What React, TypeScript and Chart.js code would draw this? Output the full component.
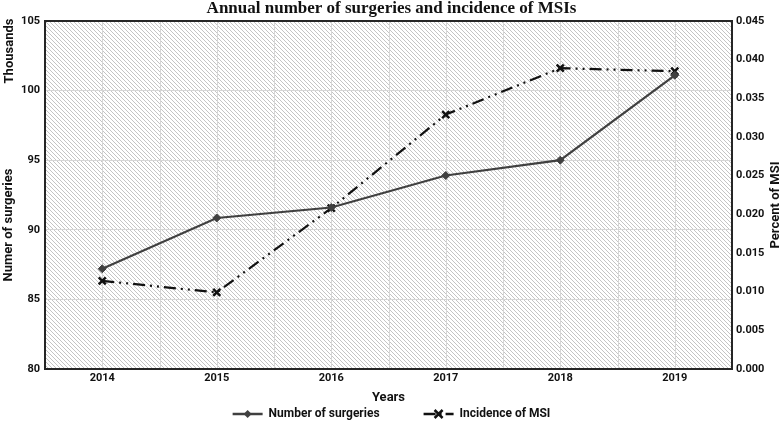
import React, { useEffect, useRef } from "react";
import { Chart, registerables } from "chart.js";

Chart.register(...registerables);

const years = ["2014", "2015", "2016", "2017", "2018", "2019"];
const surgeries = [87.2, 90.85, 91.6, 93.9, 95.0, 101.1]; // thousands
const msiIncidence = [0.0114, 0.0099, 0.0208, 0.0329, 0.0389, 0.0385];
const chartTitle = "Annual number of surgeries and incidence of MSIs";
const xTitle = "Years";
const leftTitle = "Numer of surgeries";
const leftUnit = "Thousands";
const rightTitle = "Percent of MSI";
const seriesNames = ["Number of surgeries", "Incidence of MSI"];

const FONT = "Roboto, 'Noto Sans', sans-serif";
const TITLE_FONT = "'Liberation Serif', 'DejaVu Serif', serif";

function makePattern(ctx: CanvasRenderingContext2D) {
  const c = document.createElement("canvas");
  c.width = 4;
  c.height = 4;
  const p = c.getContext("2d")!;
  p.fillStyle = "#ffffff";
  p.fillRect(0, 0, 4, 4);
  p.strokeStyle = "#c4c4c4";
  p.lineWidth = 1;
  p.beginPath();
  p.moveTo(-1, -1);
  p.lineTo(5, 5);
  p.moveTo(-1, 3);
  p.lineTo(1, 5);
  p.moveTo(3, -1);
  p.lineTo(5, 1);
  p.stroke();
  return ctx.createPattern(c, "repeat")!;
}

const decorPlugin = {
  id: "decor",
  beforeDraw(chart: any) {
    const { ctx, chartArea: a } = chart;
    ctx.save();
    ctx.fillStyle = makePattern(ctx);
    ctx.fillRect(a.left, a.top, a.right - a.left, a.bottom - a.top);
    ctx.restore();
  },
  beforeDatasetsDraw(chart: any) {
    const { ctx, chartArea: a } = chart;
    const x = chart.scales.x;
    const n = years.length;
    const w = (a.right - a.left) / n;
    ctx.save();
    ctx.strokeStyle = "#d6d6d6";
    ctx.lineWidth = 1;
    for (let i = 0; i < n; i++) {
      const cx = Math.round(x.getPixelForValue(i)) + 0.5;
      ctx.beginPath();
      ctx.moveTo(cx, a.top);
      ctx.lineTo(cx, a.bottom);
      ctx.stroke();
      if (i > 0) {
        const bx = Math.round(a.left + i * w) + 0.5;
        ctx.beginPath();
        ctx.moveTo(bx, a.top);
        ctx.lineTo(bx, a.bottom);
        ctx.stroke();
      }
    }
    ctx.restore();
  },
  afterDraw(chart: any) {
    const { ctx, chartArea: a, width } = chart;
    ctx.save();
    // border
    ctx.strokeStyle = "#262626";
    ctx.lineWidth = 2;
    ctx.strokeRect(a.left, a.top, a.right - a.left, a.bottom - a.top);

    // title
    ctx.fillStyle = "#111";
    ctx.font = `bold 17px ${TITLE_FONT}`;
    ctx.textAlign = "center";
    ctx.textBaseline = "middle";
    ctx.fillText(chartTitle, width / 2, 9);

    // x title
    ctx.font = `bold 13px ${FONT}`;
    ctx.fillText(xTitle, (a.left + a.right) / 2, 398);

    // rotated titles
    const rot = (text: string, x: number, y: number) => {
      ctx.save();
      ctx.translate(x, y);
      ctx.rotate(-Math.PI / 2);
      ctx.fillText(text, 0, 0);
      ctx.restore();
    };
    ctx.font = `bold 13px ${FONT}`;
    rot(leftUnit, 10, 51);
    rot(leftTitle, 9, 225);
    rot(rightTitle, 776, 205);

    // legend
    ctx.font = `bold 12px ${FONT}`;
    const y = 414;
    const lineW = 30;
    const gap = 6;
    const itemGap = 44;
    const w1 = ctx.measureText(seriesNames[0]).width;
    const w2 = ctx.measureText(seriesNames[1]).width;
    const total = lineW + gap + w1 + itemGap + lineW + gap + w2;
    let x0 = width / 2 - total / 2;
    ctx.textAlign = "left";
    // item 1
    ctx.strokeStyle = "#404040";
    ctx.lineWidth = 2.5;
    ctx.setLineDash([]);
    ctx.beginPath();
    ctx.moveTo(x0, y);
    ctx.lineTo(x0 + lineW, y);
    ctx.stroke();
    ctx.fillStyle = "#404040";
    ctx.beginPath();
    const cx1 = x0 + lineW / 2;
    ctx.moveTo(cx1, y - 4);
    ctx.lineTo(cx1 + 4, y);
    ctx.lineTo(cx1, y + 4);
    ctx.lineTo(cx1 - 4, y);
    ctx.closePath();
    ctx.fill();
    ctx.fillStyle = "#111";
    ctx.fillText(seriesNames[0], x0 + lineW + gap, y);
    x0 += lineW + gap + w1 + itemGap;
    // item 2
    ctx.strokeStyle = "#111";
    ctx.lineWidth = 2.5;
    ctx.setLineDash([12, 4, 2, 4]);
    ctx.beginPath();
    ctx.moveTo(x0, y);
    ctx.lineTo(x0 + lineW, y);
    ctx.stroke();
    ctx.setLineDash([]);
    const cx2 = x0 + lineW / 2;
    ctx.lineWidth = 2.5;
    ctx.beginPath();
    ctx.moveTo(cx2 - 4, y - 4);
    ctx.lineTo(cx2 + 4, y + 4);
    ctx.moveTo(cx2 + 4, y - 4);
    ctx.lineTo(cx2 - 4, y + 4);
    ctx.stroke();
    ctx.fillStyle = "#111";
    ctx.fillText(seriesNames[1], x0 + lineW + gap, y);
    ctx.restore();
  },
};

export default function App() {
  const ref = useRef<HTMLCanvasElement>(null);
  useEffect(() => {
    const chart = new Chart(ref.current!, {
      type: "line",
      data: {
        labels: years,
        datasets: [
          {
            label: seriesNames[0],
            data: surgeries,
            yAxisID: "y",
            borderColor: "#404040",
            backgroundColor: "#404040",
            borderWidth: 2.2,
            pointStyle: "rectRot",
            pointRadius: 4,
            pointBorderWidth: 1,
            tension: 0,
          },
          {
            label: seriesNames[1],
            data: msiIncidence,
            yAxisID: "y1",
            borderColor: "#111111",
            backgroundColor: "#111111",
            borderWidth: 2.2,
            borderDash: [12, 5, 2, 5, 2, 5],
            pointStyle: "crossRot",
            pointRadius: 5,
            pointBorderWidth: 2.5,
            tension: 0,
          },
        ],
      },
      options: {
        animation: false,
        responsive: true,
        maintainAspectRatio: false,
        layout: { padding: { top: 21, left: 0, right: 0, bottom: 0 } },
        plugins: {
          legend: { display: false },
          title: { display: false },
          tooltip: { enabled: false },
        },
        scales: {
          x: {
            offset: true,
            grid: { display: false, drawTicks: false },
            border: { display: false },
            ticks: {
              color: "#111",
              font: { family: FONT, size: 11, weight: "bold" },
              padding: 3,
              maxRotation: 0,
            },
            afterFit: (s: any) => {
              s.height = 57;
            },
          },
          y: {
            position: "left",
            min: 80,
            max: 105,
            ticks: {
              stepSize: 5,
              color: "#111",
              font: { family: FONT, size: 11, weight: "bold" },
              padding: 5,
            },
            grid: {
              color: (c: any) =>
                c.tick && (c.tick.value === 80 || c.tick.value === 105) ? "rgba(0,0,0,0)" : "#d6d6d6",
              drawTicks: false,
            },
            border: { display: false },
            afterFit: (s: any) => {
              s.width = 45;
            },
          },
          y1: {
            position: "right",
            min: 0,
            max: 0.045,
            ticks: {
              stepSize: 0.005,
              color: "#111",
              font: { family: FONT, size: 11, weight: "bold" },
              padding: 4,
              callback: (v: any) => Number(v).toFixed(3),
            },
            grid: { display: false, drawTicks: false },
            border: { display: false },
            afterFit: (s: any) => {
              s.width = 51;
            },
          },
        },
      } as any,
      plugins: [decorPlugin],
    });
    return () => chart.destroy();
  }, []);
  return (
    <div style={{ position: "fixed", left: 0, top: 0, width: 783, height: 426 }}>
      <canvas ref={ref} />
    </div>
  );
}
